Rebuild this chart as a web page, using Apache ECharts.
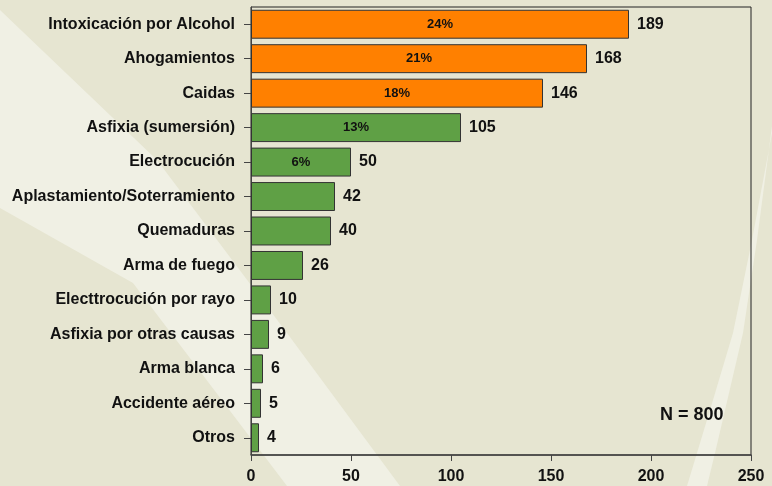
<!DOCTYPE html>
<html>
<head>
<meta charset="utf-8">
<script src="https://cdn.jsdelivr.net/npm/echarts@6/dist/echarts.min.js"></script>
<style>html,body{margin:0;padding:0;}#c{width:772px;height:486px;}</style>
</head>
<body>
<div id="c"></div>
<script>
var categories = ["Intoxicación por Alcohol","Ahogamientos","Caidas","Asfixia (sumersión)","Electrocución","Aplastamiento/Soterramiento","Quemaduras","Arma de fuego","Electtrocución por rayo","Asfixia por otras causas","Arma blanca","Accidente aéreo","Otros"];
var values = [189,168,146,105,50,42,40,26,10,9,6,5,4];
var percentLabels = ["24%","21%","18%","13%","6%","","","","","","","",""];
var groups = ["top","top","top","other","other","other","other","other","other","other","other","other","other"];
var xTicks = [0,50,100,150,200,250];
var noteText = "N = 800";

var FONT = "'Liberation Sans', Arial, sans-serif";
var groupColor = {top: "#FF8000", other: "#5FA045"};

var chart = echarts.init(document.getElementById('c'), null, {renderer: 'canvas'});
chart.setOption({
  backgroundColor: "#E6E5D1",
  animation: false,
  graphic: [
    {type: 'polygon', silent: true, z: -100,
     shape: {points: [[0,10],[157,160],[287,333],[400,486],[287,486],[133,283],[0,208]]},
     style: {fill: "#F0F0E4"}},
    {type: 'polygon', silent: true, z: -100,
     shape: {points: [[772,133],[752,240],[733,333],[713,400],[697,453],[687,486],[707,486],[715,453],[743,333],[757,240],[772,126]]},
     style: {fill: "#F0F0E4"}},
    {type: 'text', left: 660, top: 406, z: 10,
     style: {text: noteText, fill: "#111", font: "bold 18px " + FONT}}
  ],
  grid: {left: 251, right: 21, top: 7, bottom: 31, show: true, borderColor: "#222", borderWidth: 1, backgroundColor: 'transparent'},
  xAxis: {
    type: 'value', min: xTicks[0], max: xTicks[xTicks.length-1], interval: xTicks[1]-xTicks[0],
    axisLine: {show: true, lineStyle: {color: "#444", width: 1.5}},
    axisTick: {show: true, length: 6, lineStyle: {color: "#444"}},
    splitLine: {show: false},
    axisLabel: {color: "#111", fontWeight: 'bold', fontSize: 16, fontFamily: FONT, margin: 14}
  },
  yAxis: {
    type: 'category', data: categories, inverse: true,
    axisLine: {show: true, lineStyle: {color: "#444", width: 1}},
    axisTick: {show: true, length: 7, alignWithLabel: true, lineStyle: {color: "#444"}},
    axisLabel: {color: "#111", fontWeight: 'bold', fontSize: 16, fontFamily: FONT, margin: 16}
  },
  series: [
    {
      type: 'bar', barCategoryGap: '16%', z: 2,
      data: values.map(function(v, i){ return {value: v, itemStyle: {color: groupColor[groups[i]]}}; }),
      itemStyle: {borderColor: "#333", borderWidth: 1},
      label: {show: true, position: 'right', distance: 8, color: "#111", fontWeight: 'bold', fontSize: 16, fontFamily: FONT}
    },
    {
      type: 'bar', barCategoryGap: '16%', barGap: '-100%', z: 3, silent: true,
      data: values,
      itemStyle: {color: 'transparent', borderWidth: 0},
      label: {show: true, position: 'inside', offset: [0, 0], color: "#111", fontWeight: 'bold', fontSize: 13, fontFamily: FONT,
        formatter: function(p){ return percentLabels[p.dataIndex]; }}
    }
  ]
});
</script>
</body>
</html>
